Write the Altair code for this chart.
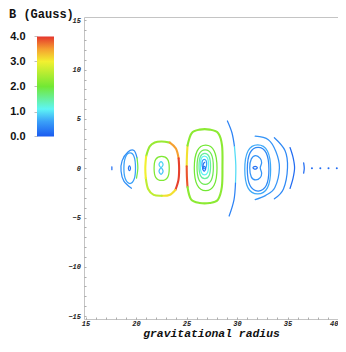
import altair as alt
import pandas as pd

# ---------------- axes / colour bar ----------------
X_DOMAIN = [14.85, 40.0]
Y_DOMAIN = [-15.3, 15.35]
x_ticks = list(range(15, 41))
y_ticks = list(range(-15, 16))

b_ticks = [0.0, 1.0, 2.0, 3.0, 4.0]
b_stops = [0.0, 0.6, 1.1, 2.0, 3.0, 3.5, 4.0]
b_colors = ["#1a5af0", "#3aa0f8", "#5ef5f5", "#72e834", "#f2f030", "#f5a030", "#e5352d"]
cbar_domain = [-7.3, 4.78]   # colour-bar scale, places 0..4 beside the top of the plot

# ---------------- contour lines (gravitational radius, height) ----------------
# group 1 (r ~ 19.5)
g1_dash = [(17.61, 0.15), (17.61, -0.15)]
g1_outer_blue = [(20.1, 1.05), (19.8, 1.8), (19.2, 1.65), (18.62, 0.75), (18.52, -0.3), (18.8, -1.3), (19.55, -2.03)]
g1_outer_green = [(20.1, 1.05), (20.18, 0.0), (20.05, -1.0)]
g1_inner = [(18.8, 0.0), (18.95, 1.1), (19.4, 1.55), (19.82, 1.15), (19.95, 0.0), (19.82, -1.1), (19.4, -1.55), (18.95, -1.1)]
g1_core = [(19.25, 0.0), (19.35, 0.25), (19.45, 0.0), (19.35, -0.25)]

# group 2 (r ~ 22.5)
g2_outer_top = [(21.0, 1.2), (21.35, 2.2), (21.85, 2.62), (22.55, 2.72), (23.35, 2.6)]
g2_outer_tr = [(23.35, 2.6), (23.95, 2.0), (24.22, 1.0)]
g2_outer_right = [(24.22, 1.0), (24.27, -0.1), (24.2, -1.2), (23.9, -2.2)]
g2_outer_br = [(23.9, -2.2), (23.3, -2.72), (22.55, -2.79)]
g2_outer_bl = [(22.55, -2.79), (21.75, -2.7), (21.2, -2.1), (20.97, -1.0)]
g2_outer_left = [(20.97, -1.0), (20.92, 0.0), (21.0, 1.2)]
g2_inner = [(21.79, 0.0), (21.95, 0.9), (22.54, 1.2), (23.13, 0.9), (23.29, 0.0), (23.13, -0.92), (22.54, -1.24), (21.95, -0.92)]
g2_core_top = [(22.28, 0.38), (22.48, 0.68), (22.68, 0.38), (22.48, 0.08)]
g2_core_bot = [(22.28, -0.3), (22.48, 0.03), (22.68, -0.3), (22.48, -0.62)]

# group 3 (r ~ 26.8)
g3_outer_ul = [(25.1, 2.3), (25.04, 1.2), (25.02, 0.2)]
g3_outer_ll = [(25.02, 0.2), (25.04, -0.9), (25.1, -1.9)]
g3_outer_rest = [(25.1, -1.9), (25.45, -3.15), (26.3, -3.52), (27.3, -3.52), (28.1, -3.2), (28.5, -1.9),
                 (28.56, 0.2), (28.52, 2.3), (28.15, 3.55), (27.3, 3.92), (26.3, 3.92), (25.5, 3.55), (25.1, 2.3)]
g3_l2 = [(25.77, 0.03), (26.06, 1.76), (26.9, 2.34), (27.74, 1.76), (28.02, 0.03), (27.74, -1.7), (26.9, -2.28), (26.06, -1.7)]
g3_l3 = [(26.04, 0.12), (26.24, 1.43), (26.85, 1.87), (27.46, 1.43), (27.66, 0.12), (27.46, -1.19), (26.85, -1.63), (26.24, -1.19)]
g3_l4 = [(26.24, 0.22), (26.38, 1.18), (26.81, 1.5), (27.24, 1.18), (27.38, 0.22), (27.24, -0.74), (26.81, -1.06), (26.38, -0.74)]
g3_l5 = [(26.37, 0.29), (26.47, 1.01), (26.78, 1.24), (27.09, 1.01), (27.18, 0.29), (27.09, -0.43), (26.78, -0.67), (26.47, -0.43)]
g3_l6 = [(26.53, 0.43), (26.59, 0.78), (26.76, 0.9), (26.93, 0.78), (26.99, 0.43), (26.93, 0.08), (26.76, -0.04), (26.59, 0.08)]
g3_core = [(26.6, -0.05), (26.75, 0.2), (26.9, -0.05), (26.75, -0.3)]
g3_stem = [(26.62, -0.05), (26.66, 0.4), (26.8, 0.6)]
g3_arc_top = [(29.05, 4.8), (29.5, 3.6), (29.75, 2.2)]
g3_arc_mid = [(29.75, 2.2), (29.88, 0.3), (29.85, -1.5)]
g3_arc_bot = [(29.85, -1.5), (29.7, -3.2), (29.22, -4.85)]

# group 4 (r ~ 32)
g4_a = [(30.77, -0.12), (31.09, 1.75), (32.05, 2.37), (33.01, 1.75), (33.33, -0.12), (33.01, -1.99), (32.05, -2.61), (31.09, -1.99)]
g4_b = [(31.02, -0.1), (31.29, 1.56), (32.09, 2.12), (32.89, 1.56), (33.16, -0.1), (32.89, -1.76), (32.09, -2.31), (31.29, -1.76)]
g4_inner = [(31.26, 0.05), (31.42, 0.95), (31.85, 1.29), (32.3, 1.0), (32.44, 0.55), (32.3, 0.05),
            (32.44, -0.5), (32.3, -0.95), (31.85, -1.19), (31.42, -0.9)]
g4_core = [(31.58, 0.05), (31.8, 0.2), (32.01, 0.05), (31.8, -0.1)]
g4_arc1 = [(31.8, 3.25), (33.1, 2.9), (33.85, 1.7), (34.2, 0.05), (33.75, -1.95), (32.85, -2.75), (31.8, -3.18)]
g4_arc2 = [(33.7, 3.1), (34.75, 1.8), (35.0, 0.05), (34.6, -2.1), (33.7, -3.1)]
g4_arc3 = [(35.25, 2.1), (35.55, 1.1), (35.7, 0.05), (35.55, -1.0), (35.25, -2.05)]
g4_tick = [(36.6, 0.55), (36.66, 0.0), (36.6, -0.5)]

# isolated specks on the mid-plane
dot_x = [37.42, 38.25, 39.06, 39.88]
dot_y = [0.0, 0.0, 0.0, 0.0]
dot_b = [0.15, 0.15, 0.15, 0.15]

# (name, field strength B in Gauss, closed?, points)
curves = [
    ("g1_dash", 0.2, "open", g1_dash),
    ("g1_outer_blue", 0.45, "open", g1_outer_blue),
    ("g1_outer_green", 1.9, "open", g1_outer_green),
    ("g1_inner", 0.6, "closed", g1_inner),
    ("g1_core", 0.25, "closed", g1_core),
    ("g2_outer_top", 2.3, "open", g2_outer_top),
    ("g2_outer_tr", 3.5, "open", g2_outer_tr),
    ("g2_outer_right", 3.95, "open", g2_outer_right),
    ("g2_outer_br", 3.1, "open", g2_outer_br),
    ("g2_outer_bl", 2.6, "open", g2_outer_bl),
    ("g2_outer_left", 3.0, "open", g2_outer_left),
    ("g2_inner", 2.1, "closed", g2_inner),
    ("g2_core_top", 0.9, "closed", g2_core_top),
    ("g2_core_bot", 0.8, "closed", g2_core_bot),
    ("g3_outer_ul", 3.1, "open", g3_outer_ul),
    ("g3_outer_ll", 3.85, "open", g3_outer_ll),
    ("g3_outer_rest", 2.2, "open", g3_outer_rest),
    ("g3_l2", 2.0, "closed", g3_l2),
    ("g3_l3", 1.85, "closed", g3_l3),
    ("g3_l4", 1.5, "closed", g3_l4),
    ("g3_l5", 1.1, "closed", g3_l5),
    ("g3_l6", 0.6, "closed", g3_l6),
    ("g3_core", 0.25, "closed", g3_core),
    ("g3_stem", 0.25, "open", g3_stem),
    ("g3_arc_top", 0.35, "open", g3_arc_top),
    ("g3_arc_mid", 0.95, "open", g3_arc_mid),
    ("g3_arc_bot", 0.35, "open", g3_arc_bot),
    ("g4_a", 0.65, "closed", g4_a),
    ("g4_b", 0.4, "closed", g4_b),
    ("g4_inner", 0.5, "closed", g4_inner),
    ("g4_core", 0.2, "closed", g4_core),
    ("g4_arc1", 0.5, "open", g4_arc1),
    ("g4_arc2", 0.4, "open", g4_arc2),
    ("g4_arc3", 0.15, "open", g4_arc3),
    ("g4_tick", 0.15, "open", g4_tick),
]
BOLD = {"g2_outer_top", "g2_outer_tr", "g2_outer_right", "g2_outer_br", "g2_outer_bl", "g2_outer_left",
        "g3_outer_ul", "g3_outer_ll", "g3_outer_rest"}

rows = []
for name, b, kind, pts in curves:
    for i, (x, y) in enumerate(pts):
        rows.append({"curve": name, "B": b, "kind": kind, "bold": name in BOLD, "i": i, "x": x, "y": y})
df = pd.DataFrame(rows)
dots = pd.DataFrame({"x": dot_x, "y": dot_y, "B": dot_b})
cbar = pd.DataFrame({"b0": [b_ticks[0]], "b1": [b_ticks[-1]]})

# ---------------- encodings ----------------
mono = "Liberation Mono"
x_enc = alt.X("x:Q", scale=alt.Scale(domain=X_DOMAIN, nice=False, zero=False),
              axis=alt.Axis(values=x_ticks, format="d",
                            labelExpr="datum.value % 5 === 0 ? datum.label : ''",
                            grid=False, domain=False, offset=-2, tickSize=2, tickColor="#9a9a9a", tickWidth=0.8,
                            labelFont=mono, labelFontSize=7, labelFontStyle="italic", labelFontWeight="bold",
                            labelColor="#222", labelPadding=0, labelOverlap=False, labelFlush=1,
                            title="gravitational radius", titleFont=mono, titleFontSize=11.4,
                            titleFontStyle="italic", titleFontWeight="bold", titleColor="#111",
                            titleY=19.5, titleBaseline="alphabetic"))
y_enc = alt.Y("y:Q", scale=alt.Scale(domain=Y_DOMAIN, nice=False, zero=False),
              axis=alt.Axis(values=y_ticks, format="d",
                            labelExpr="datum.value % 5 === 0 ? datum.label : ''",
                            grid=False, domain=False, offset=-2, tickSize=2, tickColor="#9a9a9a", tickWidth=0.8,
                            labelFont=mono, labelFontSize=7, labelFontStyle="italic", labelFontWeight="bold",
                            labelColor="#222", labelPadding=3.5, labelOverlap=False, labelFlush=False,
                            title=None))
c_enc = alt.Color("B:Q", scale=alt.Scale(domain=b_stops, range=b_colors, interpolate="rgb"), legend=None)


def lines(kind, bold):
    sub = df[(df["kind"] == kind) & (df["bold"] == bold)].drop(columns=["kind", "bold"])
    interp = "cardinal-closed" if kind == "closed" else "cardinal"
    return alt.Chart(sub).mark_line(interpolate=interp, strokeWidth=2.1 if bold else 1.25,
                                    strokeCap="round", strokeJoin="round").encode(
        x=x_enc, y=y_enc, color=c_enc, detail="curve:N", order="i:Q")


plot = alt.layer(
    lines("closed", False), lines("open", False), lines("open", True),
    alt.Chart(dots).mark_circle(size=4, opacity=1).encode(x=x_enc, y=y_enc, color=c_enc),
)

# colour bar: one rect filled with the colour-scale stops, with its own left axis
grad = alt.Gradient(gradient="linear", x1=0, x2=0, y1=1, y2=0,
                    stops=[alt.GradientStop(offset=s / 4.0, color=c) for s, c in zip(b_stops, b_colors)])
colorbar = alt.Chart(cbar).mark_rect(fill=grad).encode(
    x=alt.value(-47), x2=alt.value(-30),
    y=alt.Y("b0:Q", scale=alt.Scale(domain=cbar_domain, nice=False, zero=False),
            axis=alt.Axis(orient="left", offset=47, values=b_ticks, format=".1f", grid=False, domain=False,
                          tickSize=3, tickColor="#b0b0b0", tickWidth=0.8,
                          labelFont="Liberation Sans", labelFontSize=11, labelFontWeight="bold",
                          labelColor="#111", labelPadding=9, labelOverlap=False, labelFlush=False,
                          title=None)),
    y2="b1:Q",
)

chart = alt.layer(plot, colorbar).resolve_scale(y="independent").properties(
    width=254, height=302,
    autosize=alt.AutoSizeParams(type="none"),
    padding={"left": 76, "top": 9, "right": 0, "bottom": 21},
    title=alt.TitleParams(text="B (Gauss)", anchor="start", frame="group", orient="top",
                          dx=-75, dy=14, offset=0, baseline="alphabetic", font=mono, fontSize=12,
                          fontWeight="bold", color="#111"),
).configure_view(stroke="#c4c4c4", strokeWidth=1)

chart.save("out.html", embed_options={"renderer": "svg", "actions": False})
